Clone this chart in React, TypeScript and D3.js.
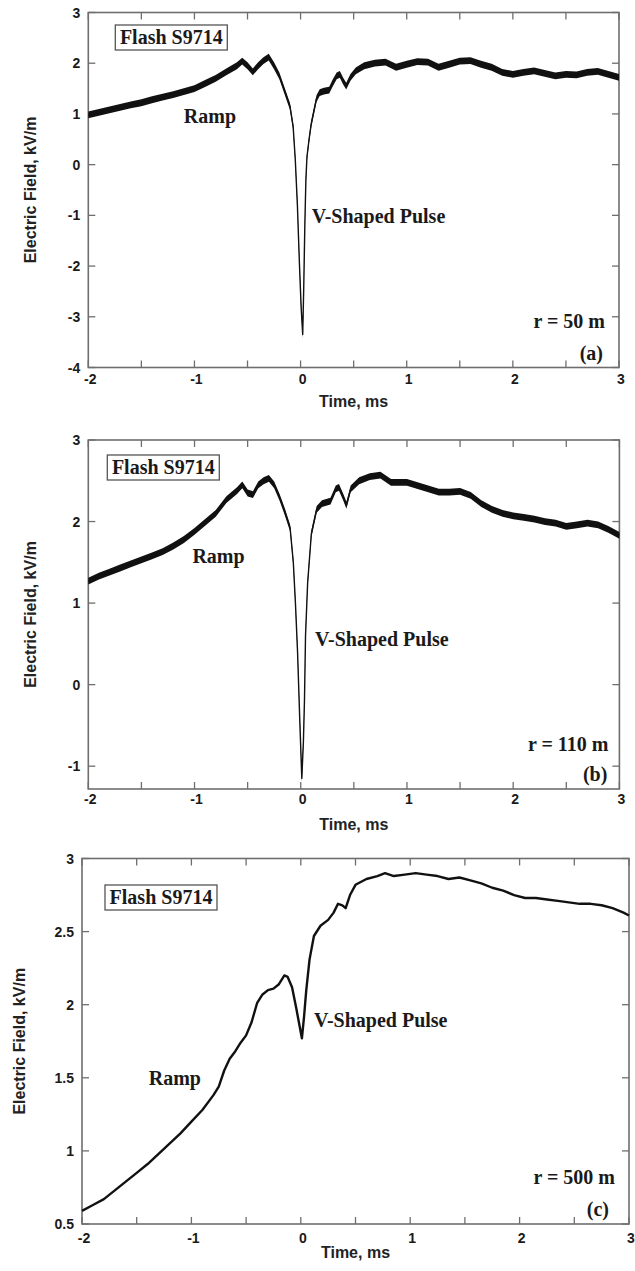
import React from "react";
import * as d3 from "d3";

// ---------- data ----------
const timeA = [-2.0, -1.9, -1.8, -1.7, -1.6, -1.5, -1.4, -1.3, -1.2, -1.1, -1.0, -0.9, -0.8, -0.7, -0.6, -0.55, -0.5, -0.45, -0.4, -0.35, -0.3, -0.25, -0.2, -0.15, -0.1, -0.07, -0.05, -0.03, -0.01, 0.005, 0.02, 0.03, 0.04, 0.05, 0.06, 0.08, 0.1, 0.12, 0.15, 0.18, 0.22, 0.27, 0.3, 0.34, 0.37, 0.4, 0.43, 0.47, 0.52, 0.6, 0.7, 0.8, 0.9, 1.0, 1.1, 1.2, 1.3, 1.4, 1.5, 1.6, 1.7, 1.8, 1.9, 2.0, 2.1, 2.2, 2.3, 2.4, 2.5, 2.6, 2.7, 2.8, 2.9, 3.0];
const fieldA = [0.98, 1.03, 1.08, 1.13, 1.18, 1.22, 1.28, 1.33, 1.38, 1.44, 1.5, 1.6, 1.7, 1.83, 1.95, 2.04, 1.95, 1.83, 1.95, 2.05, 2.12, 1.95, 1.75, 1.45, 1.15, 0.75, 0.1, -0.8, -2.0, -2.8, -3.35, -2.4, -1.2, -0.3, 0.15, 0.5, 0.8, 1.0, 1.3, 1.42, 1.45, 1.47, 1.6, 1.75, 1.78, 1.65, 1.55, 1.72, 1.85, 1.95, 2.0, 2.02, 1.92, 1.98, 2.03, 2.02, 1.92, 1.98, 2.04, 2.05, 1.98, 1.92, 1.82, 1.78, 1.82, 1.85, 1.8, 1.75, 1.78, 1.77, 1.82, 1.84, 1.78, 1.72];

const timeB = [-2.0, -1.9, -1.8, -1.7, -1.6, -1.5, -1.4, -1.3, -1.2, -1.1, -1.0, -0.9, -0.8, -0.7, -0.6, -0.55, -0.5, -0.45, -0.4, -0.35, -0.3, -0.25, -0.2, -0.15, -0.1, -0.07, -0.05, -0.03, -0.01, 0.01, 0.025, 0.035, 0.045, 0.065, 0.1, 0.15, 0.2, 0.28, 0.33, 0.36, 0.4, 0.43, 0.47, 0.55, 0.65, 0.75, 0.85, 1.0, 1.1, 1.2, 1.3, 1.4, 1.5, 1.6, 1.7, 1.8, 1.9, 2.0, 2.1, 2.2, 2.3, 2.4, 2.5, 2.6, 2.7, 2.8, 2.9, 3.0];
const fieldB = [1.27, 1.33, 1.38, 1.43, 1.48, 1.53, 1.58, 1.63, 1.7, 1.78, 1.88, 1.99, 2.1, 2.27, 2.38, 2.45, 2.35, 2.33, 2.45, 2.5, 2.53, 2.45, 2.3, 2.12, 1.92, 1.5, 1.0, 0.4, -0.4, -1.15, -0.7, -0.2, 0.6, 1.25, 1.85, 2.15, 2.22, 2.25, 2.4, 2.42, 2.3, 2.2, 2.4, 2.5, 2.55, 2.57, 2.48, 2.48, 2.44, 2.4, 2.36, 2.36, 2.37, 2.32, 2.22, 2.15, 2.1, 2.07, 2.05, 2.03, 2.0, 1.98, 1.94, 1.96, 1.98, 1.96, 1.9, 1.83];

const timeC = [-2.0, -1.9, -1.8, -1.7, -1.6, -1.5, -1.4, -1.3, -1.2, -1.1, -1.0, -0.9, -0.8, -0.75, -0.7, -0.65, -0.6, -0.55, -0.5, -0.45, -0.4, -0.35, -0.3, -0.25, -0.2, -0.15, -0.12, -0.08, -0.04, 0.01, 0.03, 0.05, 0.08, 0.12, 0.18, 0.25, 0.3, 0.34, 0.38, 0.41, 0.45, 0.5, 0.6, 0.7, 0.77, 0.85, 0.95, 1.05, 1.15, 1.25, 1.35, 1.45, 1.55, 1.65, 1.75, 1.85, 1.95, 2.05, 2.15, 2.25, 2.35, 2.45, 2.55, 2.65, 2.75, 2.85, 2.95, 3.0];
const fieldC = [0.59, 0.63, 0.67, 0.73, 0.79, 0.85, 0.91, 0.98, 1.05, 1.12, 1.2, 1.28, 1.38, 1.44, 1.55, 1.63, 1.68, 1.74, 1.79, 1.88, 2.01, 2.07, 2.1, 2.11, 2.14, 2.2, 2.19, 2.12, 1.97, 1.77, 1.92, 2.1, 2.31, 2.47, 2.54, 2.58, 2.63, 2.69, 2.68, 2.66, 2.75, 2.82, 2.86, 2.88, 2.9, 2.88, 2.89, 2.9, 2.89, 2.88, 2.86, 2.87, 2.85, 2.83, 2.8, 2.78, 2.75, 2.73, 2.73, 2.72, 2.71, 2.7, 2.69, 2.69, 2.68, 2.66, 2.63, 2.61];

const xDomain = [-2, 3];
const xLabelTicks = [-2, -1, 0, 1, 2, 3];
const xAllTicks = [-2, -1.5, -1, -0.5, 0, 0.5, 1, 1.5, 2, 2.5, 3];
const yTicksA = [-4, -3, -2, -1, 0, 1, 2, 3];
const yTicksB = [-1, 0, 1, 2, 3];
const yTicksC = [0.5, 1, 1.5, 2, 2.5, 3];

const flashLabel = "Flash S9714";
const rampLabel = "Ramp";
const pulseLabel = "V-Shaped Pulse";
const xTitle = "Time, ms";
const yTitle = "Electric Field, kV/m";

const panels = [
  {
    id: "a", times: timeA, values: fieldA, yDomain: [-4, 3], yTicks: yTicksA, fmt: (v: number) => String(v),
    left: 88.3, right: 619, top: 12.5, bottom: 367.5, band: 3.4, stroke: 1.4,
    xLabY: 384, xTitleY: 407, yTitleX: 30,
    ramp: [-1.1, 0.82], pulse: [0.105, -1.15], rLabel: "r = 50 m", tag: "(a)",
    flash: [27, 12.5], rOff: [14, 40], tagOff: [16, 8],
  },
  {
    id: "b", times: timeB, values: fieldB, yDomain: [-1.28, 3], yTicks: yTicksB, fmt: (v: number) => String(v),
    left: 88.3, right: 619.4, top: 440, bottom: 789, band: 3.4, stroke: 1.4,
    xLabY: 804, xTitleY: 830, yTitleX: 30,
    ramp: [-1.02, 1.49], pulse: [0.135, 0.47], rLabel: "r = 110 m", tag: "(b)",
    flash: [19, 15], rOff: [11, 38], tagOff: [12, 8],
  },
  {
    id: "c", times: timeC, values: fieldC, yDomain: [0.5, 3], yTicks: yTicksC, fmt: (v: number) => String(v),
    left: 82, right: 629, top: 858.5, bottom: 1224, band: 0, stroke: 2.4,
    xLabY: 1243, xTitleY: 1258, yTitleX: 19,
    ramp: [-1.39, 1.45], pulse: [0.12, 1.85], rLabel: "r = 500 m", tag: "(c)",
    flash: [23, 26.5], rOff: [14, 40], tagOff: [20, 8],
  },
];

const SANS = "'Liberation Sans', Arial, sans-serif";
const SERIF = "'Liberation Serif', 'Times New Roman', serif";
const AXIS = "#6e6e6e";
const TICK = 7;

function Panel({ p }: { p: any }) {
  const x = d3.scaleLinear().domain(xDomain).range([p.left, p.right]);
  const y = d3.scaleLinear().domain(p.yDomain).range([p.bottom, p.top]);
  const pts: [number, number][] = p.times.map((t: number, i: number) => [t, p.values[i]]);
  const line = d3.line<[number, number]>().x((d) => x(d[0])).y((d) => y(d[1]));
  const area = d3
    .area<[number, number]>()
    .x((d) => x(d[0]))
    .y0((d) => y(d[1]) + p.band)
    .y1((d) => y(d[1]) - p.band);
  const cx = (p.left + p.right) / 2;
  const cy = (p.top + p.bottom) / 2;
  const boxW = 112;
  const boxH = 25;
  const bx = p.left + p.flash[0];
  const by = p.top + p.flash[1];
  return (
    <g>
      <rect x={p.left} y={p.top} width={p.right - p.left} height={p.bottom - p.top} fill="none" stroke={AXIS} strokeWidth={1.6} />
      {xAllTicks.map((t) => (
        <g key={"xt" + t}>
          <line x1={x(t)} x2={x(t)} y1={p.bottom} y2={p.bottom - TICK} stroke={AXIS} strokeWidth={1.3} />
          <line x1={x(t)} x2={x(t)} y1={p.top} y2={p.top + TICK} stroke={AXIS} strokeWidth={1.3} />
        </g>
      ))}
      {p.yTicks.map((v: number) => (
        <g key={"yt" + v}>
          <line x1={p.left} x2={p.left + TICK} y1={y(v)} y2={y(v)} stroke={AXIS} strokeWidth={1.3} />
          <line x1={p.right} x2={p.right - TICK} y1={y(v)} y2={y(v)} stroke={AXIS} strokeWidth={1.3} />
          <text x={p.left - 8} y={y(v)} dy="0.36em" textAnchor="end" fontFamily={SANS} fontWeight="bold" fontSize={14} fill="#1a1a1a">
            {p.fmt(v)}
          </text>
        </g>
      ))}
      {xLabelTicks.map((t) => (
        <text key={"xl" + t} x={x(t) + 2} y={p.xLabY} textAnchor="middle" fontFamily={SANS} fontWeight="bold" fontSize={14} fill="#1a1a1a">
          {String(t)}
        </text>
      ))}
      <text x={cx} y={p.xTitleY} textAnchor="middle" fontFamily={SANS} fontWeight="bold" fontSize={16} fill="#222">
        {xTitle}
      </text>
      <text transform={`translate(${p.yTitleX},${cy}) rotate(-90)`} dy="0.36em" textAnchor="middle" fontFamily={SANS} fontWeight="bold" fontSize={16} fill="#222">
        {yTitle}
      </text>
      {p.band > 0 && <path d={area(pts) || ""} fill="#111" stroke="none" />}
      <path d={line(pts) || ""} fill="none" stroke="#111" strokeWidth={p.stroke} strokeLinejoin="round" />
      <rect x={bx} y={by} width={boxW} height={boxH} fill="#fff" stroke="#555" strokeWidth={1.3} />
      <text x={bx + boxW / 2} y={by + boxH / 2} dy="0.34em" textAnchor="middle" fontFamily={SERIF} fontWeight="bold" fontSize={20} fill="#1a1a1a">
        {flashLabel}
      </text>
      <text x={x(p.ramp[0])} y={y(p.ramp[1])} fontFamily={SERIF} fontWeight="bold" fontSize={20} fill="#1a1a1a">
        {rampLabel}
      </text>
      <text x={x(p.pulse[0])} y={y(p.pulse[1])} fontFamily={SERIF} fontWeight="bold" fontSize={20} fill="#1a1a1a">
        {pulseLabel}
      </text>
      <text x={p.right - p.rOff[0]} y={p.bottom - p.rOff[1]} textAnchor="end" fontFamily={SERIF} fontWeight="bold" fontSize={20} fill="#1a1a1a">
        {p.rLabel}
      </text>
      <text x={p.right - p.tagOff[0]} y={p.bottom - p.tagOff[1]} textAnchor="end" fontFamily={SERIF} fontWeight="bold" fontSize={20} fill="#1a1a1a">
        {p.tag}
      </text>
    </g>
  );
}

export default function App() {
  return (
    <svg
      width={635}
      height={1271}
      viewBox="0 0 635 1271"
      style={{ position: "absolute", left: 0, top: 0, background: "#fff" }}
    >
      <rect x={0} y={0} width={635} height={1271} fill="#fff" />
      {panels.map((p) => (
        <Panel key={p.id} p={p} />
      ))}
    </svg>
  );
}
